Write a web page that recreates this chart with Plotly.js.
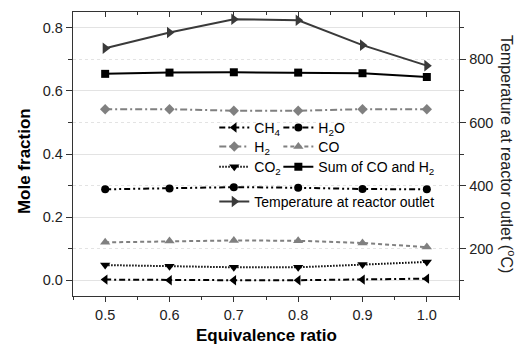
<!DOCTYPE html>
<html>
<head>
<meta charset="utf-8">
<script src="https://cdn.plot.ly/plotly-3.0.1.min.js"></script>
<style>html,body{margin:0;padding:0;background:#fff;}#chart{width:524px;height:351px;}</style>
</head>
<body>
<div id="chart"></div>
<script>
// Data
const equivalenceRatio = [0.5, 0.6, 0.7, 0.8, 0.9, 1.0];
const ch4 = [0.002, 0.000, 0.000, 0.000, 0.002, 0.005];
const h2o = [0.288, 0.291, 0.295, 0.293, 0.289, 0.288];
const h2 = [0.542, 0.542, 0.537, 0.537, 0.542, 0.542];
const co = [0.120, 0.124, 0.126, 0.125, 0.118, 0.105];
const co2 = [0.048, 0.044, 0.041, 0.041, 0.050, 0.058];
const sumCoH2 = [0.654, 0.658, 0.659, 0.658, 0.656, 0.644];
const temperature = [835, 885, 927, 924, 845, 780];

const names = {
  ch4: 'CH<sub>4</sub>', h2o: 'H<sub>2</sub>O', h2: 'H<sub>2</sub>', co: 'CO',
  co2: 'CO<sub>2</sub>', sum: 'Sum of CO and H<sub>2</sub>', temp: 'Temperature at reactor outlet'
};
const xTicks = [0.5, 0.6, 0.7, 0.8, 0.9, 1.0];
const xTickText = ['0.5', '0.6', '0.7', '0.8', '0.9', '1.0'];

function tr(y, name, color, dash, symbol, size, legend, yaxis) {
  return {
    x: equivalenceRatio, y: y, name: name, type: 'scatter', mode: 'lines+markers',
    line: {color: color, width: 2, dash: dash},
    marker: {symbol: symbol, size: size, color: color},
    legend: legend, yaxis: yaxis || 'y', hoverinfo: 'skip'
  };
}

const data = [
  tr(ch4, names.ch4, '#000', '6px,3px,2px,3px', 'triangle-left', 9, 'legend'),
  tr(h2o, names.h2o, '#000', '6px,3px,2px,3px,2px,3px', 'circle', 8, 'legend2'),
  tr(h2, names.h2, '#808080', '7px,3px,2px,3px', 'diamond', 8, 'legend3'),
  tr(co, names.co, '#808080', '4px,3px', 'triangle-up', 9, 'legend4'),
  tr(co2, names.co2, '#000', '1.5px,1.5px', 'triangle-down', 9, 'legend5'),
  tr(sumCoH2, names.sum, '#000', 'solid', 'square', 8, 'legend6'),
  tr(temperature, names.temp, '#3a3a3a', 'solid', 'triangle-right', 10, 'legend7', 'y2'),
  {x: [], y: [], xaxis: 'x2', yaxis: 'y', showlegend: false, hoverinfo: 'skip', type: 'scatter'}
];

const FF = 'Liberation Sans, Arial, sans-serif';
const tickFont = {family: FF, size: 14.5, color: '#222'};
const legFont = {family: FF, size: 14, color: '#000'};
const axCol = '#333';

// legend placement (paper coords): column x, row y
const colX = [0.366, 0.532];
const rowY = [0.592, 0.525, 0.454, 0.331];
function leg(col, row) {
  return {x: colX[col], y: rowY[row], xanchor: 'left', yanchor: 'middle', orientation: 'v',
          bgcolor: 'rgba(0,0,0,0)', borderwidth: 0, font: legFont};
}

const layout = {
  width: 524, height: 351,
  margin: {l: 73, r: 65, t: 12, b: 55},
  paper_bgcolor: '#fff', plot_bgcolor: '#fff',
  showlegend: true,
  xaxis: {
    range: [0.45, 1.05], tickvals: xTicks, ticktext: xTickText,
    ticks: 'outside', ticklen: 5, tickwidth: 1, tickcolor: axCol,
    showline: true, linecolor: axCol, linewidth: 1.3, showgrid: false, zeroline: false,
    tickfont: tickFont,
    minor: {dtick: 0.05, tick0: 0.45, ticks: 'outside', ticklen: 3, tickcolor: axCol, showgrid: false}
  },
  xaxis2: {
    overlaying: 'x', side: 'top', range: [0.45, 1.05], tickvals: xTicks,
    ticks: 'inside', ticklen: 5, tickcolor: axCol, showticklabels: false,
    showline: true, linecolor: axCol, linewidth: 1.3, showgrid: false, zeroline: false,
    minor: {dtick: 0.05, tick0: 0.45, ticks: 'inside', ticklen: 3, tickcolor: axCol, showgrid: false}
  },
  yaxis: {
    range: [-0.05, 0.85], tickvals: [0, 0.2, 0.4, 0.6, 0.8],
    ticktext: ['0.0', '0.2', '0.4', '0.6', '0.8'],
    ticks: 'outside', ticklen: 6, tickcolor: axCol,
    showline: true, linecolor: axCol, linewidth: 1.3, zeroline: false,
    showgrid: true, gridcolor: '#e3e3e3', gridwidth: 1,
    tickfont: tickFont,
    minor: {tickvals: [0.1, 0.3, 0.5, 0.7], ticks: 'outside', ticklen: 4, tickcolor: axCol,
            showgrid: true, gridcolor: '#e3e3e3', griddash: 'dot', gridwidth: 1}
  },
  yaxis2: {
    overlaying: 'y', side: 'right', range: [50, 950],
    tickvals: [200, 400, 600, 800],
    ticks: 'outside', ticklen: 6, tickcolor: axCol,
    showline: true, linecolor: axCol, linewidth: 1.3, zeroline: false, showgrid: false,
    tickfont: tickFont,
    minor: {tickvals: [100, 300, 500, 700, 900], ticks: 'outside', ticklen: 4, tickcolor: axCol, showgrid: false}
  },
  legend: leg(0, 0),
  legend2: leg(1, 0),
  legend3: leg(0, 1),
  legend4: leg(1, 1),
  legend5: leg(0, 2),
  legend6: leg(1, 2),
  legend7: leg(0, 3),
  annotations: [
    {text: '<b>Mole fraction</b>', xref: 'paper', yref: 'paper', x: -0.127, y: 0.475,
     textangle: -90, showarrow: false, xanchor: 'center', yanchor: 'middle',
     font: {family: FF, size: 17, color: '#000'}},
    {text: 'Temperature at reactor outlet (<sup>o</sup>C)', xref: 'paper', yref: 'paper', x: 1.127, y: 0.5,
     textangle: 90, showarrow: false, xanchor: 'center', yanchor: 'middle',
     font: {family: FF, size: 16, color: '#222'}},
    {text: '<b>Equivalence ratio</b>', xref: 'paper', yref: 'paper', x: 0.5, y: -0.14,
     showarrow: false, xanchor: 'center', yanchor: 'middle',
     font: {family: FF, size: 17, color: '#000'}}
  ]
};

Plotly.newPlot('chart', data, layout, {staticPlot: true, displayModeBar: false});
</script>
</body>
</html>
